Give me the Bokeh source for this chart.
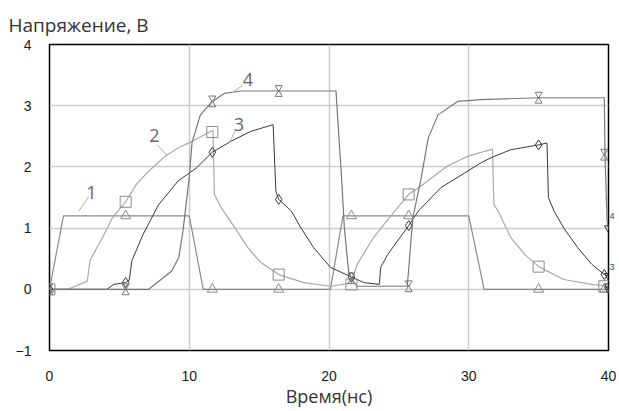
from bokeh.plotting import figure
from bokeh.models import Range1d, FixedTicker, LinearAxis
from bokeh.embed import file_html
from bokeh.resources import INLINE
from bokeh.core.properties import value

# ---- data ----
x_ticks = [0, 10, 20, 30, 40]
y_ticks = [-1, 0, 1, 2, 3, 4]

s1_x = [0, 1.0, 10.0, 11.0, 20.1, 21.0, 30.0, 31.1, 40]
s1_y = [0, 1.2, 1.2, 0, 0, 1.2, 1.2, 0, 0]

s2_x = [0, 1.3, 2.7, 2.9, 3.8, 4.5, 5.45, 6.2, 7.1, 8.3, 9.2, 10.3, 11.7,
        11.8, 12.3, 13.1, 14.2, 15.1, 16.4, 18.2, 20.1, 21.6, 22.0, 23.2,
        24.5, 25.7, 26.7, 28.5, 30.0, 31.7, 31.8, 32.1, 33.0, 34.0, 35.0,
        36.8, 38.8, 40]
s2_y = [0, 0, 0.13, 0.47, 0.85, 1.17, 1.43, 1.71, 1.93, 2.18, 2.31, 2.43, 2.6,
        1.55, 1.33, 1.06, 0.68, 0.44, 0.24, 0.11, 0.05, 0.1, 0.4, 0.85,
        1.22, 1.55, 1.71, 2.02, 2.18, 2.29, 1.38, 1.28, 0.85, 0.57, 0.37,
        0.16, 0.08, 0.05]

s3_x = [0, 4.1, 4.6, 5.45, 5.7, 5.9, 6.7, 7.8, 9.2, 10.5, 11.65, 13.0, 14.4,
        16.0, 16.2, 16.4, 17.3, 18.0, 18.9, 20.1, 21.6, 22.5, 23.6, 23.7,
        24.2, 25.7, 26.4, 28.0, 29.7, 30.9, 31.6, 33.0, 35.0, 35.6, 35.7,
        36.1, 36.8, 37.8, 38.8, 39.7, 40]
s3_y = [0, 0, 0.08, 0.11, 0.15, 0.47, 0.9, 1.38, 1.77, 1.98, 2.24, 2.42, 2.58,
        2.69, 1.6, 1.47, 1.28, 1.0, 0.68, 0.36, 0.2, 0.11, 0.08, 0.36,
        0.57, 1.04, 1.28, 1.66, 1.9, 2.07, 2.15, 2.28, 2.36, 2.39, 1.5,
        1.28, 1.0, 0.68, 0.41, 0.24, 0.22]

s4_x = [0, 7.1, 8.75, 9.25, 9.55, 9.97, 10.2, 10.8, 11.65, 12.5, 13.7, 20.5,
        20.65, 20.9, 21.1, 21.4, 21.6, 22.0, 25.6, 26.0, 26.6, 27.1, 27.8,
        29.2, 30.9, 35.0, 39.7, 39.75, 39.9, 40]
s4_y = [0, 0, 0.3, 0.52, 0.95, 1.77, 2.4, 2.85, 3.07, 3.2, 3.24, 3.24,
        2.7, 1.82, 1.0, 0.3, 0.17, 0.05, 0.05, 1.17, 1.82, 2.47, 2.85,
        3.07, 3.1, 3.13, 3.13, 2.2, 1.12, 1.0]

marker_x = [0, 5.45, 11.65, 16.4, 21.6, 25.7, 35.0, 39.7]
m1_y = [0, 1.2, 0, 0, 1.2, 1.2, 0, 0]
m2_y = [0, 1.43, 2.57, 0.24, 0.08, 1.55, 0.37, 0.05]
m3_y = [0, 0.11, 2.24, 1.47, 0.2, 1.04, 2.36, 0.24]
m4_y = [0, 0.0, 3.07, 3.24, 0.18, 0.05, 3.13, 2.2]

label_text = ["1", "2", "3", "4"]
label_x = [3.0, 7.5, 13.55, 14.2]
label_y = [1.58, 2.52, 2.7, 3.43]
leader_x = [[2.1, 2.8], [7.7, 8.45], [13.3, 12.85], [13.8, 13.0]]
leader_y = [[1.28, 1.51], [2.36, 2.18], [2.59, 2.39], [3.33, 3.2]]

end_text = ["4", "3"]
end_y = [1.2, 0.36]

c1, c2, c3, c4 = "#8a8a8a", "#a9a9a9", "#3a3a3a", "#787878"
LIGHT = "Open Sans"

p = figure(width=617, height=410, output_backend="svg", toolbar_location=None,
           x_range=Range1d(0, 40), y_range=Range1d(-1, 4),
           min_border_left=49, min_border_right=2, min_border_top=44,
           min_border_bottom=57)
p.background_fill_color = "white"
p.border_fill_color = "white"
p.outline_line_color = "black"
p.outline_line_width = 1.5

p.title.text = "Напряжение, В"
p.title.text_font = LIGHT
p.title.text_font_size = "19px"
p.title.text_font_style = "normal"
p.title.text_color = "#333333"
p.title.align = "left"
p.title.offset = -41
p.title.standoff = 14

for ax in (p.xaxis[0], p.yaxis[0]):
    ax.axis_line_color = None
    ax.major_tick_line_color = None
    ax.minor_tick_line_color = None
    ax.major_tick_out = 0
    ax.major_tick_in = 0
    ax.major_label_text_font = "Liberation Sans"
    ax.major_label_text_font_size = "14px"
    ax.major_label_text_color = "#1a1a1a"
p.xaxis.ticker = FixedTicker(ticks=x_ticks)
p.yaxis.ticker = FixedTicker(ticks=y_ticks)
p.xaxis.major_label_standoff = 20
p.yaxis.major_label_standoff = 18
p.xaxis.axis_label = "Время(нс)"
p.xaxis.axis_label_text_font = LIGHT
p.xaxis.axis_label_text_font_size = "18px"
p.xaxis.axis_label_text_font_style = "normal"
p.xaxis.axis_label_text_color = "#333333"
p.xaxis.axis_label_standoff = 0

# small end-of-trace labels on the right edge
rax = LinearAxis(ticker=FixedTicker(ticks=end_y),
                 major_label_overrides={v: t for v, t in zip(end_y, end_text)},
                 axis_line_color=None, major_tick_line_color=None,
                 minor_tick_line_color=None, major_tick_out=0, major_tick_in=0,
                 major_label_standoff=1, major_label_text_font="Liberation Sans",
                 major_label_text_font_size="9px",
                 major_label_text_color="#444444")
p.add_layout(rax, "right")

p.xgrid.ticker = FixedTicker(ticks=x_ticks)
p.ygrid.ticker = FixedTicker(ticks=y_ticks)
for g in (p.xgrid[0], p.ygrid[0]):
    g.grid_line_color = "#cccccc"
    g.grid_line_width = 1.5

p.line(s1_x, s1_y, line_color=c1, line_width=1.2)
p.line(s2_x, s2_y, line_color=c2, line_width=1.2)
p.line(s3_x, s3_y, line_color=c3, line_width=1.0)
p.line(s4_x, s4_y, line_color=c4, line_width=1.2)

p.scatter(marker_x, m1_y, marker="triangle", size=10, fill_color=None,
          line_color=c1, line_width=1)
p.scatter(marker_x, m2_y, marker="square", size=11, fill_color=None,
          line_color=c1, line_width=1)
p.scatter(marker_x, m3_y, marker="diamond", size=10, fill_color=None,
          line_color=c3, line_width=1)
# hourglass = inverted triangle over triangle
hg = 3.4 / 61.5
p.scatter(marker_x, [v + hg for v in m4_y], marker="inverted_triangle", size=7,
          fill_color=None, line_color=c4, line_width=1)
p.scatter(marker_x, [v - hg for v in m4_y], marker="triangle", size=7,
          fill_color=None, line_color=c4, line_width=1)

# end-of-trace markers
ends_y = [s1_y[-1], s2_y[-1], s3_y[-1], s4_y[-1]]
p.scatter([40] * 4, ends_y, marker="inverted_triangle", size=8, fill_color=None,
          line_color="#333333", line_width=1)

for lx, ly in zip(leader_x, leader_y):
    p.line(lx, ly, line_color="#b0b0b0", line_width=1)
p.text(label_x, label_y, text=label_text, text_font=value(LIGHT),
       text_font_size="18px", text_color="#666666", text_align="center",
       text_baseline="middle")

open("out.html", "w").write(file_html(p, INLINE))
